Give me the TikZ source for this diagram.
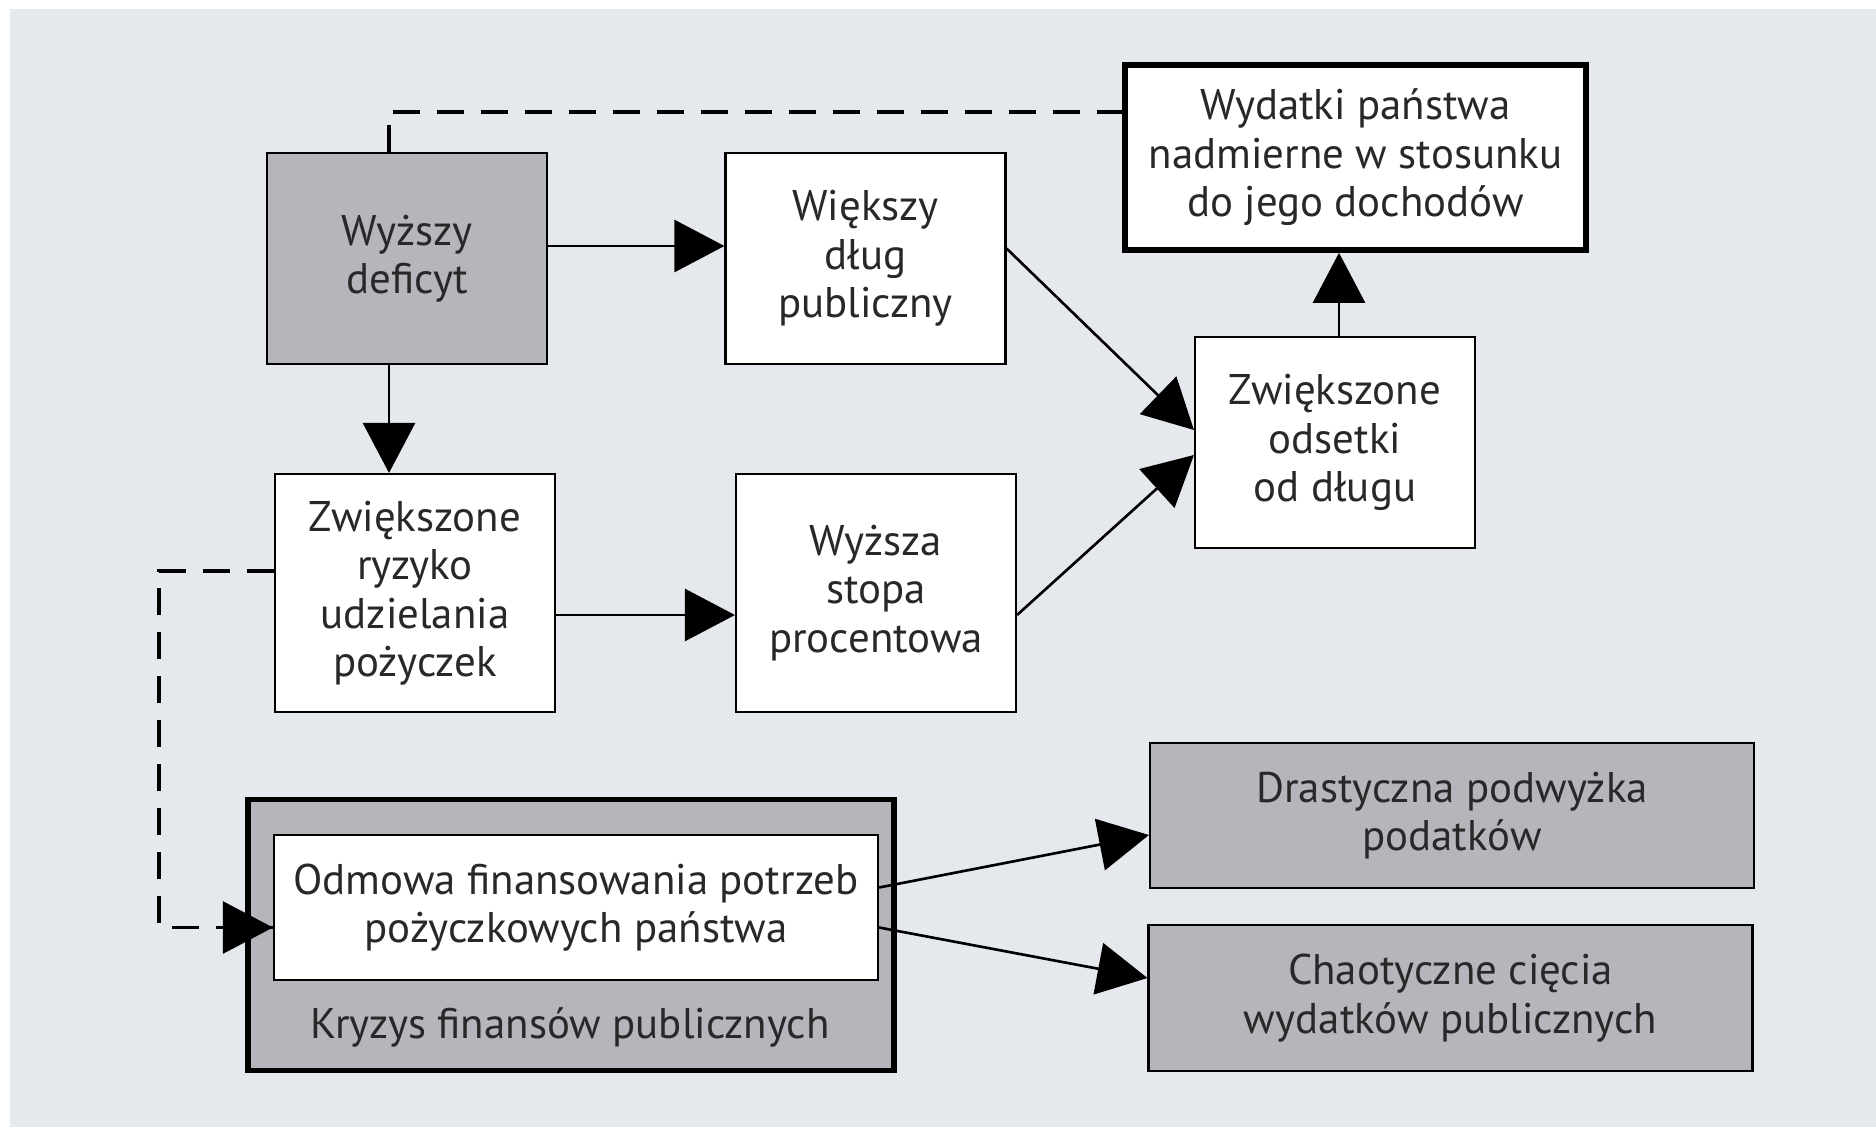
\documentclass[tikz,border=0pt]{standalone}
\usepackage{fontspec}
\setmainfont{PT Sans}
\usepackage{tikz}
\usetikzlibrary{shapes,arrows.meta,positioning}
\definecolor{tlo}{RGB}{229,232,237}
\definecolor{szary}{RGB}{181,182,187}
\definecolor{tekst}{RGB}{40,40,40}
\tikzset{
  box/.style={draw, fill=white, line width=0.6pt, align=center, inner sep=0pt,
    text=tekst, font=\fontsize{12.2}{13.8}\selectfont},
  graybox/.style={box, fill=szary},
  thickbox/.style={box, line width=1.6pt},
  arr/.style={-{Triangle[length=5mm,width=5.2mm]}, line width=0.75pt},
  dashline/.style={line width=1pt, dash pattern=on 2.7mm off 1.7mm},
}

\begin{document}
\begin{tikzpicture}
  % Sizes
  \pgfmathsetmacro{\boxw}{2.8}
  \pgfmathsetmacro{\wideboxw}{6.04}
  \useasboundingbox (0,0) rectangle (18.76,11.36);
  \fill[tlo] (0.10,0.09) rectangle (18.76,11.27);

  % boxes
  \node[graybox, minimum width=\boxw cm, minimum height=2.11cm] (deficyt) at (4.07,8.775) {Wyższy\\deficyt};
  \node[box, minimum width=\boxw cm, minimum height=2.11cm] (wiekszy) at (8.655,8.775) {Większy\\dług\\publiczny};
  \node[thickbox, minimum width=4.61cm, minimum height=1.85cm] (wydatki) at (13.555,9.785) {Wydatki państwa\\nadmierne w stosunku\\do jego dochodów};
  \node[box, minimum width=\boxw cm, minimum height=2.11cm] (odsetki) at (13.35,6.935) {Zwiększone\\odsetki\\od długu};
  \node[box, minimum width=\boxw cm, minimum height=2.38cm] (ryzyko) at (4.15,5.43) {Zwiększone\\ryzyko\\udzielania\\pożyczek};
  \node[box, minimum width=\boxw cm, minimum height=2.38cm] (stopa) at (8.76,5.43) {Wyższa\\stopa\\procentowa};

  % crisis
  \node[thickbox, fill=szary, minimum width=6.46cm, minimum height=2.71cm] (kryzys) at (5.71,2.01) {};
  \node[box, minimum width=\wideboxw cm, minimum height=1.45cm] (odmowa) at (5.76,2.285) {Odmowa finansowania potrzeb\\pożyczkowych państwa};
  \node[text=tekst, font=\fontsize{12.2}{13.8}\selectfont] (kryzyslabel) at (5.70,1.09) {Kryzys finansów publicznych};

  \node[graybox, minimum width=\wideboxw cm, minimum height=1.45cm] (podatki) at (14.52,3.205) {Drastyczna podwyżka\\podatków};
  \node[graybox, minimum width=\wideboxw cm, minimum height=1.46cm] (ciecia) at (14.505,1.38) {Chaotyczne cięcia\\wydatków publicznych};

  % arrows
  \draw[arr] ([yshift=1.25mm]deficyt.east) -- ([yshift=1.25mm]deficyt.east -| wiekszy.west);
  \draw[arr] ([xshift=-1.8mm]deficyt.south) -- ([xshift=-1.8mm]deficyt.south |- ryzyko.north);
  \draw[arr] ([yshift=1mm]wiekszy.east) -- ([yshift=1.25mm]odsetki.west);
  \draw[arr] ([yshift=-2.2mm]ryzyko.east) -- ([yshift=-2.2mm]ryzyko.east -| stopa.west);
  \draw[arr] ([yshift=-2.2mm]stopa.east) -- ([yshift=-1.25mm]odsetki.west);
  \draw[arr] ([xshift=0.4mm]odsetki.north) -- ([xshift=0.4mm]odsetki.north |- wydatki.south);
  \draw[arr] ([yshift=2mm]odmowa.east) -- ([yshift=-1.95mm]podatki.west);
  \draw[arr] ([yshift=-2mm]odmowa.east) -- ([yshift=2mm]ciecia.west);

  % dashed links
  \coordinate (topbend) at (3.89,10.24);
  \coordinate (leftbend) at (1.59,5.65);
  \draw[dashline] (deficyt.north -| topbend) -- (topbend) -- (topbend -| wydatki.west);
  \draw[dashline] (leftbend -| ryzyko.west) -- (leftbend) |- ([yshift=-2mm]odmowa.west)
    coordinate (dashend);
  \draw[arr] ([xshift=-4mm]dashend) -- (dashend);
\end{tikzpicture}
\end{document}
